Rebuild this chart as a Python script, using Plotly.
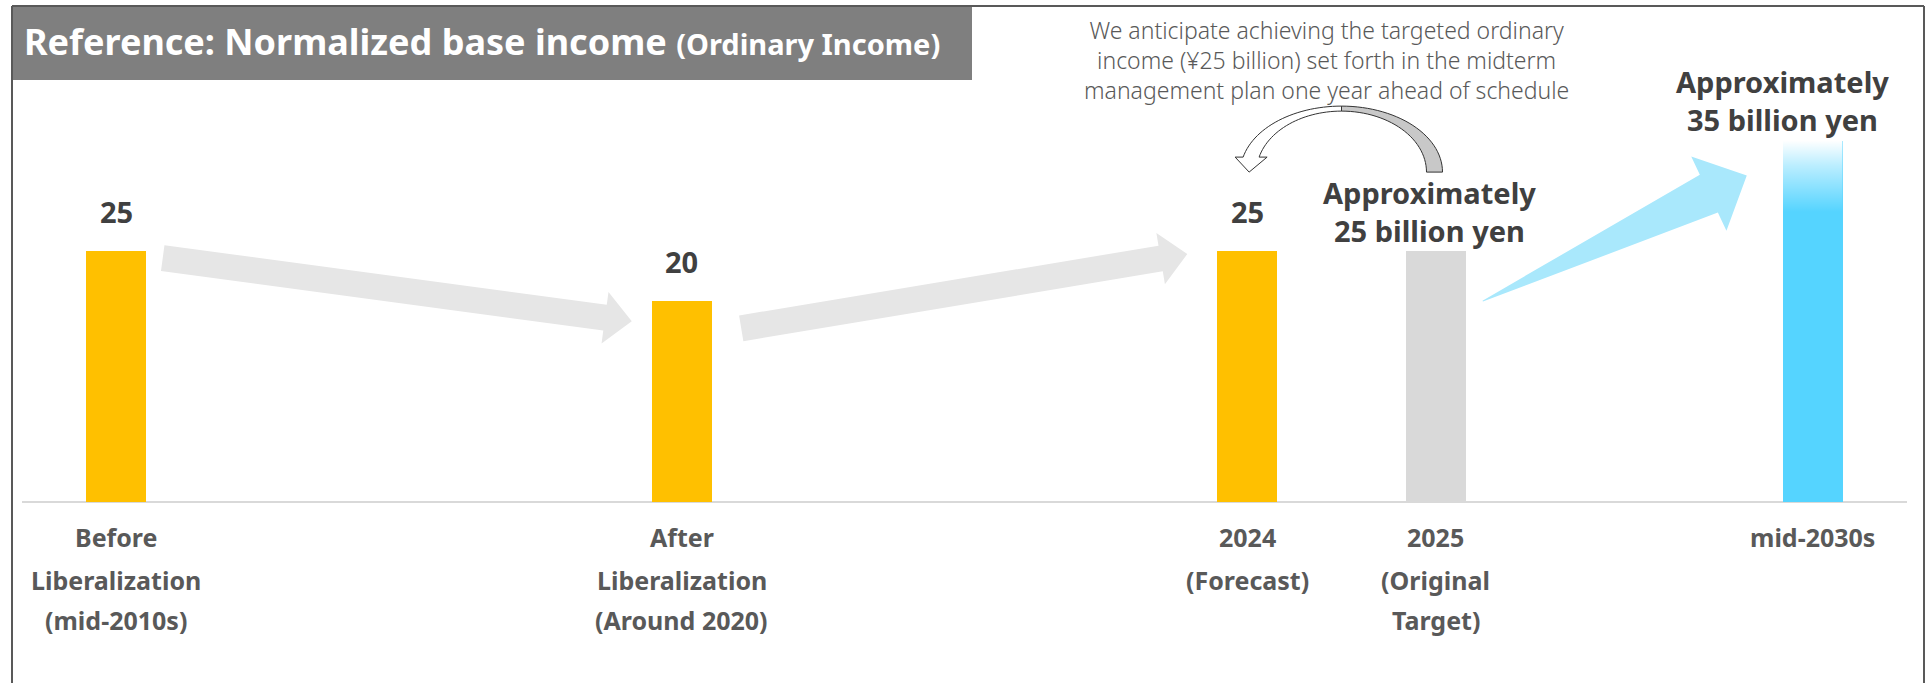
import math
import base64
import plotly.graph_objects as go

# ---------------- data ----------------
categories = ["Before Liberalization (mid-2010s)", "After Liberalization (Around 2020)",
              "2024 (Forecast)", "2025 (Original Target)", "mid-2030s"]
tick_lines = [["Before", "Liberalization", "(mid-2010s)"],
              ["After", "Liberalization", "(Around 2020)"],
              ["2024", "(Forecast)"],
              ["2025", "(Original", "Target)"],
              ["mid-2030s"]]
positions = [0, 3, 6, 7, 9]
values = [25, 20, 25, 25, 36]
value_labels = [["25"], ["20"], ["25"],
                ["Approximately", "25 billion yen"],
                ["Approximately", "35 billion yen"]]
bar_colors = ["#FFC000", "#FFC000", "#FFC000", "#D9D9D9", "#55D4FF"]
note_lines = ["We anticipate achieving the targeted ordinary",
              "income (\u00a525 billion) set forth in the midterm",
              "management plan one year ahead of schedule"]
title_main = "Reference: Normalized base income"
title_sub = "(Ordinary Income)"

# ---------------- geometry helpers ----------------
W, H = 1926, 683
PL, PR = 22, 1907
XR = (-0.5, 9.5)
YR = (-18, 50)
PPX = (PR - PL) / (XR[1] - XR[0])
PPY = H / (YR[1] - YR[0])
BW = 0.318
BWPX = BW * PPX


def xpx(x):
    return PL + (x - XR[0]) * PPX


def ypx(y):
    return (YR[1] - y) * PPY


def xd(px):
    return XR[0] + (px - PL) / PPX


def yd(py):
    return YR[1] - py / PPY


def xp(px):
    return (px - PL) / (PR - PL)


def yp(py):
    return (H - py) / H


def path_from_px(pts, close=True):
    s = "M " + " L ".join(f"{xd(a):.5f},{yd(b):.5f}" for a, b in pts)
    return s + (" Z" if close else "")


def block_arrow(tail, tip, tail_hw, shaft_hw, head_hw, head_len):
    dx, dy = tip[0] - tail[0], tip[1] - tail[1]
    ln = math.hypot(dx, dy)
    ux, uy = dx / ln, dy / ln
    nx, ny = -uy, ux
    bx, by = tip[0] - ux * head_len, tip[1] - uy * head_len
    pts = [(tail[0] + nx * tail_hw, tail[1] + ny * tail_hw),
           (bx + nx * shaft_hw, by + ny * shaft_hw),
           (bx + nx * head_hw, by + ny * head_hw),
           tip,
           (bx - nx * head_hw, by - ny * head_hw),
           (bx - nx * shaft_hw, by - ny * shaft_hw),
           (tail[0] - nx * tail_hw, tail[1] - ny * tail_hw)]
    return path_from_px(pts)


def top_right(i):
    return xpx(positions[i]) + BWPX / 2, ypx(values[i])


def top_left(i):
    return xpx(positions[i]) - BWPX / 2, ypx(values[i])


# ---------------- figure ----------------
fig = go.Figure()
fig.add_trace(go.Bar(x=positions, y=values, width=BW, marker=dict(color=bar_colors, line=dict(width=0)),
                     hoverinfo="skip", showlegend=False))

shapes = []
# frame
frame_col = "#595959"
shapes.append(dict(type="line", xref="paper", yref="paper", x0=xp(12), x1=xp(12), y0=yp(6), y1=yp(H + 5),
                   line=dict(color=frame_col, width=2)))
shapes.append(dict(type="line", xref="paper", yref="paper", x0=xp(12), x1=xp(1924), y0=yp(6), y1=yp(6),
                   line=dict(color=frame_col, width=2)))
shapes.append(dict(type="line", xref="paper", yref="paper", x0=xp(1924), x1=xp(1924), y0=yp(6), y1=yp(H + 5),
                   line=dict(color=frame_col, width=2)))
# title box
shapes.append(dict(type="rect", xref="paper", yref="paper", x0=xp(13), x1=xp(972), y0=yp(80), y1=yp(7),
                   fillcolor="#7F7F7F", line=dict(width=0), layer="below"))

# gray arrows between bars
t0 = top_right(0)
h1 = top_left(1)
shapes.append(dict(type="path", xref="x", yref="y",
                   path=block_arrow((t0[0] + 16.5, t0[1] + 7), (h1[0] - 20, h1[1] + 20), 13, 13, 26, 27),
                   fillcolor="#E6E6E6", line=dict(width=0), layer="below"))
t1 = top_right(1)
h2 = top_left(2)
shapes.append(dict(type="path", xref="x", yref="y",
                   path=block_arrow((t1[0] + 29.5, t1[1] + 27), (h2[0] - 30, h2[1] + 3), 13, 13, 26, 27),
                   fillcolor="#E6E6E6", line=dict(width=0), layer="below"))
# blue wedge arrow
t3 = top_right(3)
h4 = top_left(4)
shapes.append(dict(type="path", xref="x", yref="y",
                   path=block_arrow((t3[0] + 17, t3[1] + 50), (h4[0] - 36, h4[1] + 35), 0.5, 21, 41, 42),
                   fillcolor="#A9E8FC", line=dict(width=0), layer="below"))

# curved arrow from 2025 target back to 2024
cx = (xpx(positions[2]) + xpx(positions[3])) / 2
cy = ypx(values[3]) - 79
rxo, ryo, rxi, ryi = 101, 66, 85, 61
arm = 15


def ell(rx, ry, th):
    return cx + rx * math.cos(th), cy - ry * math.sin(th)


n = 30
tho_l = math.pi - math.asin(arm / ryo)
thi_l = math.pi - math.asin(arm / ryi)
white = [ell(rxo, ryo, math.pi / 2 + (tho_l - math.pi / 2) * k / n) for k in range(n + 1)]
xo_end = white[-1][0]
xi_end = ell(rxi, ryi, thi_l)[0]
white += [(xo_end - 8, cy - arm), ((xo_end + xi_end) / 2 - 2, cy), (xi_end + 8, cy - arm)]
white += [ell(rxi, ryi, thi_l + (math.pi / 2 - thi_l) * k / n) for k in range(n + 1)]
gray_outer = [ell(rxo, ryo, (math.pi / 2) * (n - k) / n) for k in range(n + 1)]
gray_inner = [ell(rxi, ryi, (math.pi / 2) * k / n) for k in range(n + 1)]
gray = gray_outer + gray_inner
shapes.append(dict(type="path", xref="x", yref="y", path=path_from_px(gray),
                   fillcolor="#C8C8C8", line=dict(width=0)))
shapes.append(dict(type="path", xref="x", yref="y", path=path_from_px(gray, close=False),
                   fillcolor="rgba(0,0,0,0)", line=dict(color="#333333", width=1)))
shapes.append(dict(type="path", xref="x", yref="y", path=path_from_px(white),
                   fillcolor="#FFFFFF", line=dict(color="#333333", width=1)))

# gradient fade at top of the mid-2030s bar
svg = ("<svg xmlns='http://www.w3.org/2000/svg' width='10' height='100' viewBox='0 0 10 100' "
       "preserveAspectRatio='none'><defs><linearGradient id='g' x1='0' y1='0' x2='0' y2='1'>"
       "<stop offset='0' stop-color='#FFFFFF' stop-opacity='1'/>"
       "<stop offset='0.35' stop-color='#FFFFFF' stop-opacity='0.6'/>"
       "<stop offset='1' stop-color='#FFFFFF' stop-opacity='0'/></linearGradient></defs>"
       "<rect x='0' y='0' width='10' height='100' fill='url(#g)'/></svg>")
src = "data:image/svg+xml;base64," + base64.b64encode(svg.encode()).decode()
images = [dict(source=src, xref="x", yref="y", x=positions[4] - BW / 2, y=values[4],
               sizex=BW, sizey=7.1, xanchor="left", yanchor="top", sizing="stretch", layer="above")]

annotations = []
LBL_FONT = "Noto Sans, DejaVu Sans, sans-serif"
# category labels
line_shift = [-35, -78, -118]
for pos, lines in zip(positions, tick_lines):
    for k, t in enumerate(lines):
        annotations.append(dict(x=pos, y=0, xref="x", yref="y", text=f"<b>{t}</b>", showarrow=False,
                                xanchor="center", yanchor="middle", yshift=line_shift[k],
                                font=dict(family=LBL_FONT, size=25, color="#595959")))
# value labels
label_xshift = [0, 0, 0, -6, -30]
for pos, val, lines, xs in zip(positions, values, value_labels, label_xshift):
    annotations.append(dict(x=pos, y=val, xref="x", yref="y",
                            text="<br>".join(f"<b>{t}</b>" for t in lines), showarrow=False,
                            xanchor="center", yanchor="middle", yshift=40, xshift=xs, align="center",
                            font=dict(family=LBL_FONT, size=29, color="#404040")))
# note
annotations.append(dict(x=xp(1326), y=yp(60), xref="paper", yref="paper", text="<br>".join(note_lines),
                        showarrow=False, xanchor="center", yanchor="middle", align="center",
                        font=dict(family="Noto Sans, Roboto, sans-serif", size=23, color="#595959",
                                  weight=300)))
# title
annotations.append(dict(x=xp(22), y=yp(42), xref="paper", yref="paper",
                        text=f"<b>{title_main}</b> <b><span style='font-size:29px'>{title_sub}</span></b>",
                        showarrow=False, xanchor="left", yanchor="middle",
                        font=dict(family=LBL_FONT, size=36, color="#FFFFFF")))

fig.update_layout(
    width=W, height=H,
    margin=dict(l=PL, r=W - PR, t=0, b=0, pad=0),
    paper_bgcolor="#FFFFFF", plot_bgcolor="rgba(0,0,0,0)",
    xaxis=dict(range=list(XR), showgrid=False, zeroline=False, showticklabels=False, showline=False,
               fixedrange=True),
    yaxis=dict(range=list(YR), showgrid=False, showticklabels=False, showline=False, zeroline=True,
               zerolinecolor="#D9D9D9", zerolinewidth=2, fixedrange=True),
    shapes=shapes, annotations=annotations, images=images,
    hovermode=False, showlegend=False, bargap=0,
)

fig.write_html("out.html", config={"displayModeBar": False},
               post_script="document.body.style.margin='0';document.body.style.overflow='hidden';")
